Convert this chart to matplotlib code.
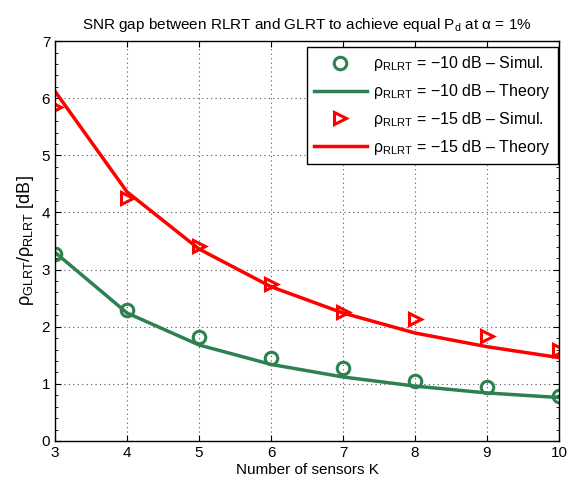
import numpy as np
import matplotlib.pyplot as plt
from matplotlib.ticker import MultipleLocator

plt.rcParams['font.family'] = ['Liberation Sans', 'DejaVu Sans']
plt.rcParams['mathtext.fontset'] = 'custom'
plt.rcParams['mathtext.rm'] = 'Liberation Sans'
plt.rcParams['mathtext.it'] = 'Liberation Sans'

# Number of sensors
K = [3, 4, 5, 6, 7, 8, 9, 10]

# rho_RLRT = -10 dB
sim_10 = [3.28, 2.30, 1.82, 1.46, 1.28, 1.05, 0.95, 0.79]
th_10 = [3.30, 2.24, 1.68, 1.34, 1.12, 0.96, 0.84, 0.76]

# rho_RLRT = -15 dB
sim_15 = [5.85, 4.25, 3.42, 2.75, 2.25, 2.13, 1.83, 1.59]
th_15 = [6.12, 4.36, 3.36, 2.70, 2.24, 1.89, 1.65, 1.46]

green = '#2e8050'
red = '#ff0000'

fig = plt.figure(figsize=(5.68, 4.84), dpi=100)
ax = fig.add_axes([0.097, 0.089, 0.887, 0.826])

ax.plot(K, sim_10, 'o', ms=9, mfc='none', mec=green, mew=2.2,
        label='$\\rho_{\\mathrm{RLRT}}$ = \u221210 dB \u2013 Simul.')
ax.plot(K, th_10, '-', color=green, lw=2.5,
        label='$\\rho_{\\mathrm{RLRT}}$ = \u221210 dB \u2013 Theory')
ax.plot(K, sim_15, '>', ms=9, mfc='none', mec=red, mew=2.2,
        label='$\\rho_{\\mathrm{RLRT}}$ = \u221215 dB \u2013 Simul.')
ax.plot(K, th_15, '-', color=red, lw=2.5,
        label='$\\rho_{\\mathrm{RLRT}}$ = \u221215 dB \u2013 Theory')

ax.set_xlim(3, 10)
ax.set_ylim(0, 7)
ax.xaxis.set_major_locator(MultipleLocator(1))
ax.yaxis.set_major_locator(MultipleLocator(1))
ax.yaxis.set_minor_locator(MultipleLocator(0.2))
ax.tick_params(which='both', direction='in', top=True, right=True, labelsize=11)
ax.tick_params(which='major', length=4)
ax.tick_params(which='minor', length=2)
ax.grid(True, which='major', linestyle=(0, (1, 3)), color='#555555', lw=0.8)
for s in ax.spines.values():
    s.set_linewidth(1.0)

ax.set_xlabel('Number of sensors K', fontsize=11, labelpad=2)
ax.set_ylabel('$\\rho_{\\mathrm{GLRT}}/\\rho_{\\mathrm{RLRT}}$ [dB]', fontsize=13, labelpad=4)
ax.set_title('SNR gap between RLRT and GLRT to achieve equal P$_{\\mathrm{d}}$ at \u03b1 = 1%',
             fontsize=11, pad=9)

leg = ax.legend(loc='upper right', bbox_to_anchor=(0.998, 0.985), fontsize=11.5,
                handlelength=3.3, borderpad=0.45, labelspacing=0.55, handletextpad=0.4,
                fancybox=False, framealpha=1, edgecolor='black', borderaxespad=0.0)
leg.get_frame().set_linewidth(1.0)

fig.savefig('out.png', dpi=100)
